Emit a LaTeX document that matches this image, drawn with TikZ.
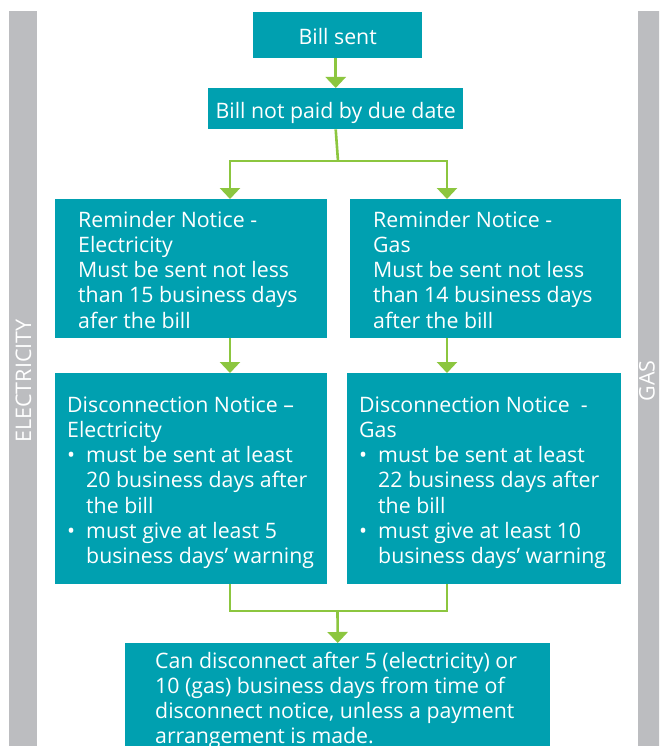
\documentclass[tikz,border=0pt]{standalone}
\usepackage{fontspec}
\setmainfont{Open Sans}
\usetikzlibrary{arrows.meta}
\definecolor{boxteal}{HTML}{00A0B0}
\definecolor{arrgreen}{HTML}{8CC63F}
\definecolor{bargrey}{HTML}{BCBDC0}
\newcommand\fl{\rule{0pt}{17pt}}
\newcommand\bulitem{\makebox[19pt][l]{\textbullet}}
\newcommand\bulcont{\hspace*{19pt}}
\begin{document}
\begin{tikzpicture}[x=1pt,y=-1pt,
  flow/.style={draw=arrgreen, line width=2.6pt},
  arr/.style={flow, -{Triangle[width=20pt,length=11pt]}},
  box/.style={fill=boxteal, draw=none, anchor=north west, inner sep=0pt},
  txt/.style={anchor=north west, inner sep=0pt, align=left, text=white,
    font=\fontsize{21.3}{25.2}\selectfont},
  cbox/.style={box, text=white, font=\fontsize{21.3}{25.2}\selectfont,
    text height=19pt, text depth=0pt},
  bar/.style={fill=bargrey, draw=none, anchor=north west, inner sep=0pt},
  barlabel/.style={rotate=90, text=white, inner sep=0pt,
    font=\fontsize{21.5}{26}\selectfont}]
\useasboundingbox (0,0) rectangle (659,746);
\clip (0,0) rectangle (659,746);
\fill[white] (0,0) rectangle (659,746);

% side bars
\node[bar, minimum width=28pt, minimum height=760pt] (barE) at (9,11) {};
\node[bar, minimum width=30pt, minimum height=760pt] (barG) at (638,11) {};
\node[barlabel] (labE) at (23.5,381) {ELECTRICITY};
\node[barlabel] (labG) at (647,381) {GAS};

% boxes
\node[cbox, minimum width=169pt, minimum height=46pt] (sent) at (253,12) {Bill sent};
\node[cbox, minimum width=255pt, minimum height=41pt] (bnp) at (208,88) {Bill not paid by due date};
\node[box, minimum width=272pt, minimum height=139pt] (remE) at (55,199) {};
\node[box, minimum width=271pt, minimum height=139pt] (remG) at (350,199) {};
\node[box, minimum width=272pt, minimum height=211pt] (disE) at (55,373) {};
\node[box, minimum width=274pt, minimum height=211pt] (disG) at (347,373) {};
\node[box, minimum width=425pt, minimum height=130pt] (final) at (125,643) {};

% texts
\node[txt] (remEt) at ([shift={(23,11)}]remE.north west) {\fl Reminder Notice -\\
Electricity\\
Must be sent not less\\
than 15 business days\\
afer the bill};
\node[txt] (remGt) at ([shift={(23,11)}]remG.north west) {\fl Reminder Notice -\\
Gas\\
Must be sent not less\\
than 14 business days\\
after the bill};
\node[txt] (disEt) at ([shift={(12,22)}]disE.north west) {\fl Disconnection Notice –\\
Electricity\\
\bulitem must be sent at least\\
\bulcont 20 business days after\\
\bulcont the bill\\
\bulitem must give at least 5\\
\bulcont business days’ warning};
\node[txt] (disGt) at ([shift={(12,22)}]disG.north west) {\fl Disconnection Notice\ \ -\\
Gas\\
\bulitem must be sent at least\\
\bulcont 22 business days after\\
\bulcont the bill\\
\bulitem must give at least 10\\
\bulcont business days’ warning};
\node[txt] (finalt) at ([shift={(30,8)}]final.north west) {\fl Can disconnect after 5 (electricity) or\\
10 (gas) business days from time of\\
disconnect notice, unless a payment\\
arrangement is made.};

% connectors
\coordinate (xl) at (230,0);
\coordinate (xr) at (447,0);
\coordinate (split) at (338,161);
\coordinate (merge) at (337.5,611);
\draw[arr] (sent.south -| bnp.north) -- (bnp.north);
\draw[flow] (bnp.south) -- (split);
\draw[arr] (split) -| (remE.north -| xl);
\draw[arr] (split) -| (remG.north -| xr);
\draw[arr] (remE.south -| xl) -- (disE.north -| xl);
\draw[arr] (remG.south -| xr) -- (disG.north -| xr);
\draw[flow] (disE.south -| xl) |- (merge);
\draw[flow] (disG.south -| xr) |- (merge);
\draw[arr] (merge) -- (final.north);
\end{tikzpicture}
\end{document}
